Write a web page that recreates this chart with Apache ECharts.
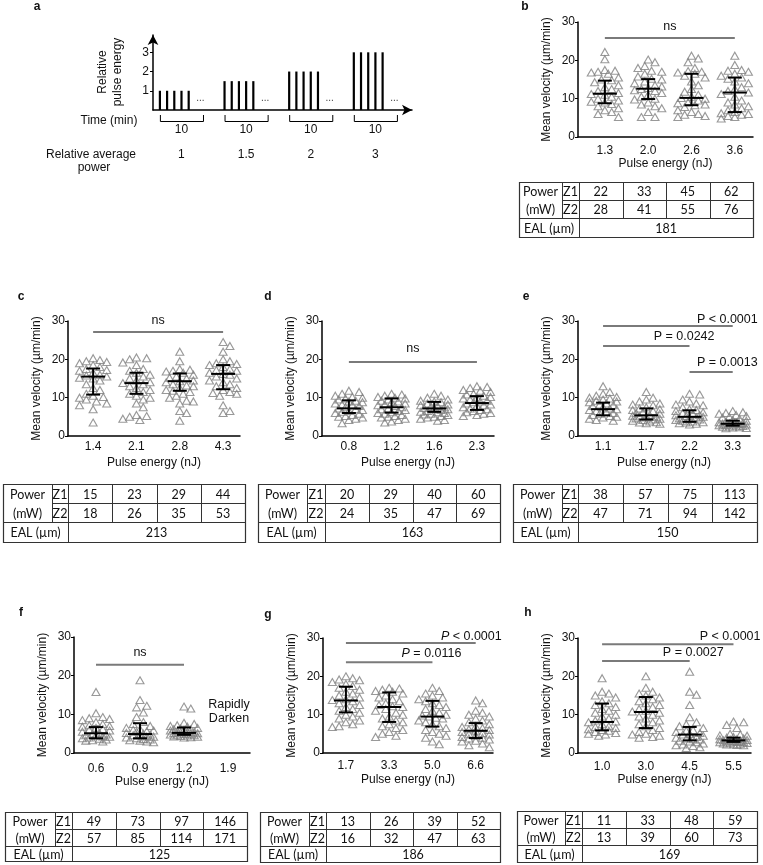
<!DOCTYPE html>
<html>
<head>
<meta charset="utf-8">
<script src="https://cdn.jsdelivr.net/npm/echarts@6/dist/echarts.min.js"></script>
<style>
  html, body { margin: 0; padding: 0; background: #fff; }
  #chart { width: 763px; height: 865px; }
</style>
</head>
<body>
<div id="chart"></div>
<script>
// ---- panel a (schematic) ----
const aRelEnergy = [1, 1.5, 2, 3];
const aRelPower = ['1', '1.5', '2', '3'];
const aDuration = [10, 10, 10, 10];
const aGroupStart = [1.6, 16.6, 31.6, 46.6];
const aPulseGap = 1.67;
const aPulseCount = 5;

// ---- scatter panels: pulse energy labels ----
const bEnergy = ['1.3', '2.0', '2.6', '3.6'];
const cEnergy = ['1.4', '2.1', '2.8', '4.3'];
const dEnergy = ['0.8', '1.2', '1.6', '2.3'];
const eEnergy = ['1.1', '1.7', '2.2', '3.3'];
const fEnergy = ['0.6', '0.9', '1.2', '1.9'];
const gEnergy = ['1.7', '3.3', '5.0', '6.6'];
const hEnergy = ['1.0', '3.0', '4.5', '5.5'];

// mean velocity (um/min), one list per pulse energy
const bVel = [
  [22.2, 20.3, 17.5, 17.3, 17.0, 16.8, 16.5, 15.5, 15.0, 14.8, 14.3, 13.5, 13.0, 12.5, 12.0, 11.5, 11.2, 11.0, 10.5, 10.0, 9.5, 9.2, 9.0, 8.6, 8.0, 7.5, 7.0, 6.5, 6.0, 5.2],
  [20.2, 19.5, 18.5, 18.0, 17.3, 17.0, 16.5, 15.8, 15.2, 15.0, 14.5, 14.0, 13.5, 13.2, 12.8, 12.5, 12.2, 12.0, 11.5, 11.0, 10.5, 10.0, 9.8, 9.0, 8.5, 8.0, 7.5, 6.5, 5.2, 5.2],
  [21.2, 20.5, 19.5, 18.0, 17.2, 17.0, 16.8, 16.5, 16.0, 15.5, 14.5, 13.5, 12.5, 11.8, 11.0, 10.5, 10.2, 10.0, 9.5, 9.0, 8.8, 8.5, 8.3, 7.8, 7.0, 6.5, 6.0, 5.8, 5.5, 5.2],
  [21.2, 18.8, 17.5, 17.3, 17.0, 16.5, 16.0, 15.5, 15.2, 14.5, 14.0, 13.0, 12.5, 12.0, 11.6, 11.2, 10.5, 9.5, 9.0, 8.5, 8.0, 7.5, 7.0, 6.5, 6.2, 6.0, 5.8, 5.5, 5.2, 4.8]
];
const cVel = [
  [20.3, 19.8, 19.5, 19.3, 19.0, 18.5, 18.0, 17.5, 17.2, 17.0, 16.5, 16.0, 15.8, 15.5, 15.2, 15.0, 14.5, 13.5, 12.5, 12.0, 11.0, 10.5, 10.2, 10.0, 9.5, 9.0, 8.5, 8.0, 7.0, 3.5],
  [20.5, 20.3, 20.0, 19.2, 18.5, 17.5, 17.0, 16.5, 16.0, 15.5, 15.0, 14.5, 14.0, 13.8, 13.5, 13.0, 12.5, 12.0, 11.5, 11.0, 10.5, 10.0, 9.5, 8.5, 7.5, 5.5, 5.2, 5.0, 4.5, 4.2],
  [22.0, 19.5, 17.5, 17.3, 17.0, 16.8, 16.5, 16.0, 15.5, 15.2, 15.0, 14.5, 14.3, 14.0, 13.5, 13.2, 13.0, 12.5, 12.0, 11.8, 11.5, 11.0, 10.5, 10.0, 9.2, 9.0, 8.5, 6.5, 6.0, 4.0],
  [24.5, 23.5, 22.0, 20.0, 19.5, 19.0, 18.8, 18.5, 18.0, 17.5, 17.2, 17.0, 16.5, 16.2, 16.0, 15.5, 15.0, 14.5, 14.0, 13.5, 13.0, 12.5, 12.0, 11.5, 11.2, 11.0, 10.5, 8.0, 6.5, 6.0]
];
const dVel = [
  [11.8, 11.5, 11.0, 10.5, 10.2, 10.0, 9.8, 9.5, 9.2, 9.0, 8.8, 8.5, 8.2, 8.0, 7.8, 7.5, 7.2, 7.0, 6.8, 6.5, 6.3, 6.0, 5.8, 5.5, 5.2, 5.0, 4.8, 4.5, 4.2, 3.3],
  [11.0, 10.8, 10.5, 10.2, 10.0, 9.8, 9.5, 9.2, 9.0, 8.8, 8.5, 8.2, 8.0, 7.8, 7.5, 7.2, 7.0, 6.8, 6.5, 6.2, 6.0, 5.8, 5.5, 5.2, 5.0, 4.8, 4.5, 4.2, 3.8, 3.5],
  [11.0, 10.5, 10.0, 9.5, 9.2, 9.0, 8.8, 8.5, 8.2, 8.0, 7.8, 7.6, 7.5, 7.3, 7.1, 7.0, 6.8, 6.5, 6.3, 6.2, 6.0, 5.8, 5.6, 5.5, 5.2, 5.0, 4.8, 4.5, 4.2, 4.0],
  [13.0, 12.8, 12.5, 12.0, 11.8, 11.5, 11.0, 10.8, 10.5, 10.2, 10.0, 9.8, 9.5, 9.2, 9.0, 8.8, 8.5, 8.2, 8.0, 7.8, 7.5, 7.2, 7.0, 6.8, 6.5, 6.2, 6.0, 5.8, 5.5, 5.2]
];
const eVel = [
  [13.0, 11.5, 11.0, 10.5, 10.2, 10.0, 9.8, 9.5, 9.2, 9.0, 8.8, 8.5, 8.2, 8.0, 7.8, 7.5, 7.2, 7.0, 6.8, 6.5, 6.2, 6.0, 5.8, 5.5, 5.2, 5.0, 4.8, 4.5, 4.2, 4.0],
  [11.5, 10.0, 9.5, 9.0, 8.5, 8.2, 8.0, 7.5, 7.2, 7.0, 6.8, 6.5, 6.2, 6.0, 5.8, 5.5, 5.3, 5.1, 5.0, 4.8, 4.6, 4.5, 4.3, 4.2, 4.0, 3.8, 3.6, 3.5, 3.3, 3.2],
  [11.0, 10.8, 9.5, 9.0, 8.5, 8.2, 8.0, 7.5, 7.0, 6.8, 6.5, 6.2, 6.0, 5.8, 5.5, 5.4, 5.2, 5.0, 4.8, 4.6, 4.5, 4.3, 4.2, 4.0, 3.8, 3.6, 3.5, 3.3, 3.2, 3.0],
  [6.5, 6.2, 6.0, 5.8, 5.5, 5.2, 5.0, 4.8, 4.5, 4.2, 4.0, 3.8, 3.6, 3.5, 3.4, 3.3, 3.2, 3.1, 3.0, 3.0, 2.9, 2.8, 2.7, 2.6, 2.5, 2.4, 2.3, 2.2, 2.1, 2.0]
];
const fVel = [
  [15.8, 10.3, 9.3, 9.0, 8.8, 8.5, 8.0, 7.5, 7.2, 7.0, 6.8, 6.5, 6.2, 6.0, 5.8, 5.5, 5.2, 5.0, 4.8, 4.6, 4.5, 4.3, 4.2, 4.0, 3.8, 3.7, 3.5, 3.3, 3.2, 3.0],
  [18.8, 13.7, 12.2, 11.8, 10.5, 9.3, 8.0, 7.5, 7.0, 6.5, 6.2, 6.0, 5.8, 5.6, 5.5, 5.2, 5.0, 4.8, 4.6, 4.5, 4.3, 4.2, 4.0, 3.8, 3.6, 3.5, 3.3, 3.2, 3.0, 2.8],
  [12.0, 11.5, 7.8, 7.5, 7.2, 7.0, 6.8, 6.5, 6.3, 6.2, 6.1, 6.0, 5.8, 5.6, 5.5, 5.4, 5.3, 5.2, 5.1, 5.0, 4.9, 4.8, 4.7, 4.6, 4.5, 4.4, 4.3, 4.2, 4.1, 4.0],
  []
];
const gVel = [
  [20.0, 19.5, 19.2, 19.0, 18.5, 18.0, 17.5, 17.0, 16.5, 16.0, 15.5, 15.0, 14.5, 14.0, 13.8, 13.5, 13.0, 12.5, 12.0, 11.5, 11.0, 10.5, 10.0, 9.5, 9.0, 8.5, 8.0, 7.5, 7.0, 6.8],
  [17.0, 16.8, 16.5, 16.2, 16.0, 15.5, 15.0, 14.5, 14.0, 13.5, 13.0, 12.5, 12.2, 12.0, 11.5, 11.0, 10.5, 10.0, 9.5, 9.0, 8.5, 8.0, 7.5, 7.0, 6.5, 6.0, 5.5, 5.0, 4.5, 4.2],
  [17.0, 16.2, 15.5, 15.0, 14.5, 14.0, 13.5, 13.0, 12.5, 12.0, 11.5, 11.0, 10.5, 10.0, 9.8, 9.5, 9.2, 9.0, 8.5, 8.0, 7.5, 7.0, 6.5, 6.0, 5.5, 5.0, 4.5, 4.0, 3.0, 2.3],
  [13.7, 13.0, 11.0, 10.5, 10.0, 9.5, 9.0, 8.5, 8.0, 7.5, 7.0, 6.8, 6.5, 6.2, 6.0, 5.8, 5.5, 5.2, 5.0, 4.8, 4.5, 4.2, 4.0, 3.8, 3.5, 3.2, 3.0, 2.5, 2.0, 1.5]
];
const hVel = [
  [19.5, 16.0, 15.5, 15.0, 14.5, 13.5, 13.0, 12.5, 12.0, 11.5, 11.0, 10.5, 10.0, 9.5, 9.0, 8.5, 8.2, 8.0, 7.5, 7.0, 6.8, 6.5, 6.2, 6.0, 5.8, 5.5, 5.2, 5.0, 4.8, 4.5],
  [20.0, 17.0, 16.0, 15.5, 15.0, 14.5, 14.0, 13.5, 13.0, 12.5, 12.0, 11.5, 11.0, 10.8, 10.5, 10.0, 9.5, 9.0, 8.5, 8.0, 7.5, 7.0, 6.5, 6.0, 5.5, 5.0, 4.8, 4.5, 4.2, 4.0],
  [21.2, 16.0, 15.2, 12.5, 9.3, 8.0, 7.5, 7.0, 6.5, 6.0, 5.8, 5.5, 5.2, 5.0, 4.8, 4.5, 4.2, 4.0, 3.8, 3.6, 3.5, 3.2, 3.0, 2.8, 2.5, 2.2, 2.0, 1.8, 1.5, 1.3],
  [8.2, 8.0, 7.3, 6.5, 5.0, 4.8, 4.6, 4.5, 4.2, 4.0, 3.8, 3.6, 3.6, 3.5, 3.4, 3.3, 3.2, 3.1, 3.0, 2.9, 2.9, 2.8, 2.7, 2.6, 2.5, 2.4, 2.3, 2.2, 2.1, 2.0]
];

// median, lower, upper of the black error bars
const bStats = [[11.3, 8.8, 14.7], [12.6, 9.9, 15.1], [10.2, 8.3, 16.5], [11.6, 6.5, 15.5]];
const cStats = [[15.5, 10.8, 17.6], [13.8, 11.0, 16.5], [14.3, 11.8, 16.3], [16.2, 12.2, 18.5]];
const dStats = [[7.2, 6.0, 9.3], [7.5, 6.1, 9.8], [7.2, 6.3, 8.9], [8.6, 6.8, 10.4]];
const eStats = [[7.0, 5.4, 8.7], [5.4, 4.3, 7.2], [5.0, 3.7, 6.7], [3.2, 2.7, 4.0]];
const fStats = [[5.1, 3.8, 6.7], [4.9, 3.8, 7.7], [5.2, 4.7, 6.6]];
const gStats = [[13.7, 10.6, 17.3], [12.0, 8.1, 15.8], [9.5, 6.9, 13.6], [5.8, 3.9, 7.8]];
const hStats = [[8.1, 5.9, 12.9], [10.7, 6.5, 14.6], [4.8, 3.3, 6.8], [3.3, 2.9, 4.0]];

// significance bars: [from index, to index, height]
const bSig = [[0, 3, 25.8]];
const bSigText = ['ns'];
const cSig = [[0, 3, 27.1]];
const cSigText = ['ns'];
const dSig = [[0, 3, 19.3]];
const dSigText = ['ns'];
const eSig = [[0, 3, 28.7], [0, 2, 23.5], [2, 3, 16.7]];
const eSigText = ['P < 0.0001', 'P = 0.0242', 'P = 0.0013'];
const fSig = [[0, 2, 22.8]];
const fSigText = ['ns'];
const gSig = [[0, 3, 28.7], [0, 2, 23.7]];
const gSigText = ['{i|P} < 0.0001', '{i|P} = 0.0116'];
const hSig = [[0, 3, 28.4], [0, 2, 24.0]];
const hSigText = ['P < 0.0001', 'P = 0.0027'];

// tables: power (mW) at Z1 / Z2, EAL (um)
const bZ1 = [22, 33, 45, 62], bZ2 = [28, 41, 55, 76], bEAL = 181;
const cZ1 = [15, 23, 29, 44], cZ2 = [18, 26, 35, 53], cEAL = 213;
const dZ1 = [20, 29, 40, 60], dZ2 = [24, 35, 47, 69], dEAL = 163;
const eZ1 = [38, 57, 75, 113], eZ2 = [47, 71, 94, 142], eEAL = 150;
const fZ1 = [49, 73, 97, 146], fZ2 = [57, 85, 114, 171], fEAL = 125;
const gZ1 = [13, 26, 39, 52], gZ2 = [16, 32, 47, 63], gEAL = 186;
const hZ1 = [11, 33, 48, 59], hZ2 = [13, 39, 60, 73], hEAL = 169;

// ---- layout (pixels) ----
const FONT = '"Liberation Sans", Arial, sans-serif';
const TFONT = 'Lato, "Liberation Sans", sans-serif';
const GRAY = '#808080';

const panels = [
  { key: 'b', energy: bEnergy, vel: bVel, stats: bStats, sig: bSig, sigText: bSigText, z1: bZ1, z2: bZ2, eal: bEAL,
    grid: { left: 578, top: 22, width: 175, height: 115 }, xMin: -0.62, xMax: 3.42, labelMargin: 8, letter: [525, 7],
    sigPos: [['c', 0, -12]],
    table: { left: 519, zL: 562, zR: 579, right: 753, top: 182, rows: [18, 18, 19] } },
  { key: 'c', energy: cEnergy, vel: cVel, stats: cStats, sig: cSig, sigText: cSigText, z1: cZ1, z2: cZ2, eal: cEAL,
    grid: { left: 68, top: 321, width: 172, height: 115 }, xMin: -0.58, xMax: 3.39, labelMargin: 5, letter: [21, 297],
    sigPos: [['c', 0, -12]],
    table: { left: 3, zL: 52, zR: 68, right: 245, top: 484, rows: [19, 19, 20] } },
  { key: 'd', energy: dEnergy, vel: dVel, stats: dStats, sig: dSig, sigText: dSigText, z1: dZ1, z2: dZ2, eal: dEAL,
    grid: { left: 322, top: 321, width: 172, height: 115 }, xMin: -0.63, xMax: 3.4, labelMargin: 5, letter: [268, 297],
    sigPos: [['c', 0, -13]],
    table: { left: 258, zL: 307, zR: 325, right: 500, top: 484, rows: [19, 19, 20] } },
  { key: 'e', energy: eEnergy, vel: eVel, stats: eStats, sig: eSig, sigText: eSigText, z1: eZ1, z2: eZ2, eal: eEAL,
    grid: { left: 578, top: 321, width: 172, height: 115 }, xMin: -0.58, xMax: 3.4, labelMargin: 5, letter: [526, 297],
    sigPos: [['r', 25, -6], ['r', 25, -9], ['r', 25, -9]],
    table: { left: 513, zL: 562, zR: 578, right: 757, top: 484, rows: [19, 19, 20] } },
  { key: 'f', energy: fEnergy, vel: fVel, stats: fStats, sig: fSig, sigText: fSigText, z1: fZ1, z2: fZ2, eal: fEAL,
    grid: { left: 74, top: 637, width: 176, height: 116 }, xMin: -0.5, xMax: 3.5, labelMargin: 10, letter: [21, 613],
    sigPos: [['c', 0, -12]],
    table: { left: 5, zL: 55, zR: 72, right: 247, top: 812, rows: [17, 17, 15] } },
  { key: 'g', energy: gEnergy, vel: gVel, stats: gStats, sig: gSig, sigText: gSigText, z1: gZ1, z2: gZ2, eal: gEAL,
    grid: { left: 323, top: 638, width: 170, height: 115 }, xMin: -0.53, xMax: 3.4, labelMargin: 7, letter: [268, 615],
    sigPos: [['r', 26, -6], ['r', 29, -9]],
    table: { left: 260, zL: 309, zR: 326, right: 500, top: 812, rows: [17, 17, 16] } },
  { key: 'h', energy: hEnergy, vel: hVel, stats: hStats, sig: hSig, sigText: hSigText, z1: hZ1, z2: hZ2, eal: hEAL,
    grid: { left: 578, top: 638, width: 173, height: 115 }, xMin: -0.55, xMax: 3.4, labelMargin: 8, letter: [528, 613],
    sigPos: [['r', 27, -8], ['r', 34, -8]],
    table: { left: 517, zL: 565, zR: 582, right: 757, top: 811, rows: [17, 17, 17] } }
];

// deterministic beeswarm offsets (in category units) computed from the values
function swarm(values, pxPerUnit, stepPx) {
  const order = values.map((v, i) => i).sort((a, b) => values[b] - values[a]);
  const placed = [];
  const off = new Array(values.length).fill(0);
  const cands = [0];
  for (let k = 1; k <= 4; k++) { cands.push(k * 3.4, -k * 3.4); }
  order.forEach(i => {
    const y = values[i] * pxPerUnit;
    let best = 0, bestScore = -1;
    for (const c of cands) {
      let minD = Infinity;
      for (const p of placed) {
        const d = Math.hypot(p[0] - c, p[1] - y);
        if (d < minD) minD = d;
      }
      if (minD >= 7) { best = c; break; }
      if (minD > bestScore) { bestScore = minD; best = c; }
    }
    placed.push([best, y]);
    off[i] = best / stepPx;
  });
  return off;
}

function txt(x, y, text, opt) {
  return {
    type: 'text', x: x, y: y, silent: true,
    style: Object.assign({
      text: text, font: '12px ' + FONT, fill: '#111',
      textAlign: 'center', textVerticalAlign: 'middle', align: 'center', verticalAlign: 'middle'
    }, opt || {})
  };
}
function hline(x1, x2, y, c) {
  return { type: 'line', silent: true, shape: { x1: x1, y1: y + 0.5, x2: x2, y2: y + 0.5 }, style: { stroke: c || '#333', lineWidth: 1 } };
}
function vline(x, y1, y2, c) {
  return { type: 'line', silent: true, shape: { x1: x + 0.5, y1: y1, x2: x + 0.5, y2: y2 }, style: { stroke: c || '#333', lineWidth: 1 } };
}

const grids = [], xAxes = [], yAxes = [], series = [], graphics = [];

// ---- panel a grid ----
grids.push({ left: 153, top: 35, width: 259, height: 75 });
xAxes.push({
  gridIndex: 0, type: 'value', min: 0, max: 60.1,
  axisLine: { show: true, onZero: false, lineStyle: { color: '#000', width: 1.5 }, symbol: ['none', 'arrow'], symbolSize: [8, 10] },
  axisTick: { show: false }, axisLabel: { show: false }, splitLine: { show: false }
});
yAxes.push({
  gridIndex: 0, type: 'value', min: 0, max: 3.9,
  axisLine: { show: true, onZero: false, lineStyle: { color: '#000', width: 1.5 }, symbol: ['none', 'arrow'], symbolSize: [8, 10] },
  axisTick: { show: true, length: 3, lineStyle: { color: '#000' }, customValues: [1, 2, 3] },
  axisLabel: { fontSize: 12, fontFamily: FONT, color: '#111', margin: 4, customValues: [1, 2, 3] },
  splitLine: { show: false }
});
const aPulses = [];
aGroupStart.forEach((s, g) => {
  for (let k = 0; k < aPulseCount; k++) aPulses.push([s + k * aPulseGap, aRelEnergy[g]]);
});
series.push({
  type: 'custom', xAxisIndex: 0, yAxisIndex: 0, silent: true, data: aPulses,
  renderItem: function (params, api) {
    const p0 = api.coord([api.value(0), 0]);
    const p1 = api.coord([api.value(0), api.value(1)]);
    return { type: 'line', shape: { x1: p0[0], y1: p0[1], x2: p1[0], y2: p1[1] }, style: { stroke: '#000', lineWidth: 2.2 } };
  }
});
series.push({
  type: 'custom', xAxisIndex: 0, yAxisIndex: 0, silent: true, clip: false,
  data: aGroupStart.map((s, g) => [s, s + aDuration[g]]),
  renderItem: function (params, api) {
    const g = params.dataIndex;
    const p0 = api.coord([api.value(0), 0]);
    const p1 = api.coord([api.value(1), 0]);
    const dots = api.coord([api.value(0) + 9.4, 0.6]);
    const y0 = p0[1], mid = (p0[0] + p1[0]) / 2;
    return { type: 'group', children: [
      { type: 'polyline', shape: { points: [[p0[0] + 0.5, y0 + 5], [p0[0] + 0.5, y0 + 11.5], [p1[0] + 0.5, y0 + 11.5], [p1[0] + 0.5, y0 + 5]] },
        style: { stroke: '#000', lineWidth: 1, fill: null } },
      txt(mid, y0 + 20, String(aDuration[g]), { font: '12px ' + FONT }),
      txt(mid, y0 + 45, aRelPower[g], { font: '12px ' + FONT }),
      txt(dots[0], dots[1], '...', { font: '10px ' + FONT, fill: '#444' })
    ] };
  }
});
graphics.push(txt(37, 7, 'a', { font: 'bold 12px ' + FONT }));
graphics.push(Object.assign(txt(110, 72, 'Relative\npulse energy', { font: '12px ' + FONT, lineHeight: 15 }), { rotation: Math.PI / 2 }));
graphics.push(txt(109, 121, 'Time (min)'));
graphics.push(txt(91, 155, 'Relative average'));
graphics.push(txt(94, 168, 'power'));

// ---- scatter panels ----
panels.forEach((p, idx) => {
  const gi = idx + 1;
  const stepPx = p.grid.width / (p.xMax - p.xMin);
  const pxPerUnit = p.grid.height / 30;
  grids.push(p.grid);
  xAxes.push({
    gridIndex: gi, type: 'value', min: p.xMin, max: p.xMax,
    axisLine: { show: true, onZero: false, lineStyle: { color: '#000', width: 1.5 } },
    axisTick: { show: false },
    axisLabel: {
      customValues: [0, 1, 2, 3], margin: p.labelMargin, fontSize: 12, fontFamily: FONT, color: '#111',
      formatter: v => p.energy[Math.round(v)]
    },
    splitLine: { show: false },
    name: 'Pulse energy (nJ)', nameLocation: 'middle', nameGap: 21,
    nameTextStyle: { fontSize: 12, fontFamily: FONT, color: '#111' }
  });
  yAxes.push({
    gridIndex: gi, type: 'value', min: 0, max: 30, interval: 10,
    axisLine: { show: true, onZero: false, lineStyle: { color: '#000', width: 1.5 } },
    axisTick: { show: true, length: 3, lineStyle: { color: '#000' } },
    axisLabel: { fontSize: 12, fontFamily: FONT, color: '#111', margin: 3 },
    splitLine: { show: false },
    name: 'Mean velocity (µm/min)', nameLocation: 'middle', nameGap: 25,
    nameTextStyle: { fontSize: 12, fontFamily: FONT, color: '#111' }
  });

  const pts = [];
  p.vel.forEach((vals, ci) => {
    const off = swarm(vals, pxPerUnit, stepPx);
    vals.forEach((v, j) => pts.push([ci + off[j], v]));
  });
  series.push({
    type: 'scatter', xAxisIndex: gi, yAxisIndex: gi, data: pts, silent: true,
    symbol: 'triangle', symbolSize: [8, 7],
    itemStyle: { color: 'rgba(255,255,255,0)', borderColor: GRAY, borderWidth: 1.1 }
  });
  series.push({
    type: 'custom', xAxisIndex: gi, yAxisIndex: gi, silent: true, z: 5,
    encode: { x: 0, y: [1, 2, 3] },
    data: p.stats.map((s, i) => [i, s[0], s[1], s[2]]),
    renderItem: function (params, api) {
      const i = api.value(0);
      const m = api.coord([i, api.value(1)]);
      const lo = api.coord([i, api.value(2)]);
      const hi = api.coord([i, api.value(3)]);
      const st = { stroke: '#000', lineWidth: 2 };
      return { type: 'group', children: [
        { type: 'line', shape: { x1: m[0] - 12, y1: m[1], x2: m[0] + 12, y2: m[1] }, style: st },
        { type: 'line', shape: { x1: lo[0], y1: lo[1], x2: hi[0], y2: hi[1] }, style: st },
        { type: 'line', shape: { x1: lo[0] - 7, y1: lo[1], x2: lo[0] + 7, y2: lo[1] }, style: st },
        { type: 'line', shape: { x1: hi[0] - 7, y1: hi[1], x2: hi[0] + 7, y2: hi[1] }, style: st }
      ] };
    }
  });
  series.push({
    type: 'custom', xAxisIndex: gi, yAxisIndex: gi, silent: true, clip: false, z: 5,
    encode: { x: [0, 1], y: 2 },
    data: p.sig,
    renderItem: function (params, api) {
      const k = params.dataIndex;
      const a = api.coord([api.value(0), api.value(2)]);
      const b = api.coord([api.value(1), api.value(2)]);
      const pos = p.sigPos[k];
      let t;
      if (pos[0] === 'c') {
        t = txt((a[0] + b[0]) / 2, a[1] + pos[2], p.sigText[k], { font: '12.5px ' + FONT });
      } else {
        t = txt(b[0] + pos[1], a[1] + pos[2], p.sigText[k], {
          font: '12.5px ' + FONT, textAlign: 'right', align: 'right',
          rich: { i: { fontStyle: 'italic', fontSize: 12.5, fontFamily: FONT } }
        });
      }
      return { type: 'group', children: [
        { type: 'line', shape: { x1: a[0], y1: a[1], x2: b[0], y2: b[1] }, style: { stroke: '#7a7a7a', lineWidth: 2 } },
        t
      ] };
    }
  });

  graphics.push(txt(p.letter[0], p.letter[1], p.key, { font: 'bold 12px ' + FONT }));

  // table under the panel
  const t = p.table;
  const r1 = t.top + t.rows[0], r2 = r1 + t.rows[1], bot = r2 + t.rows[2];
  const colW = (t.right - t.zR) / 4;
  graphics.push({ type: 'rect', silent: true, shape: { x: t.left + 0.5, y: t.top + 0.5, width: t.right - t.left, height: bot - t.top },
    style: { fill: 'none', stroke: '#333', lineWidth: 1.2 } });
  graphics.push(hline(t.zL, t.right, r1));
  graphics.push(hline(t.left, t.right, r2));
  graphics.push(vline(t.zL, t.top, r2));
  graphics.push(vline(t.zR, t.top, bot));
  for (let k = 1; k < 4; k++) graphics.push(vline(Math.round(t.zR + k * colW), t.top, r2));
  const tf = { font: '12.5px ' + TFONT, fill: '#111' };
  const cx0 = (t.left + t.zL) / 2, cz = (t.zL + t.zR) / 2;
  graphics.push(txt(cx0, (t.top + r1) / 2 + 1, 'Power', tf));
  graphics.push(txt(cx0, (r1 + r2) / 2 + 1, '(mW)', tf));
  graphics.push(txt(cz, (t.top + r1) / 2 + 1, 'Z1', tf));
  graphics.push(txt(cz, (r1 + r2) / 2 + 1, 'Z2', tf));
  p.z1.forEach((v, k) => graphics.push(txt(t.zR + (k + 0.5) * colW, (t.top + r1) / 2 + 1, String(v), tf)));
  p.z2.forEach((v, k) => graphics.push(txt(t.zR + (k + 0.5) * colW, (r1 + r2) / 2 + 1, String(v), tf)));
  graphics.push(txt((t.left + t.zR) / 2, (r2 + bot) / 2 + 1, 'EAL (µm)', tf));
  graphics.push(txt((t.zR + t.right) / 2, (r2 + bot) / 2 + 1, String(p.eal), tf));
});

graphics.push(txt(229, 705, 'Rapidly', { font: '12.5px ' + FONT }));
graphics.push(txt(229, 719, 'Darken', { font: '12.5px ' + FONT }));

const chart = echarts.init(document.getElementById('chart'), null, { renderer: 'canvas' });
chart.setOption({
  backgroundColor: '#fff',
  animation: false,
  textStyle: { fontFamily: FONT },
  grid: grids,
  xAxis: xAxes,
  yAxis: yAxes,
  series: series,
  graphic: { elements: graphics }
});
</script>
</body>
</html>
